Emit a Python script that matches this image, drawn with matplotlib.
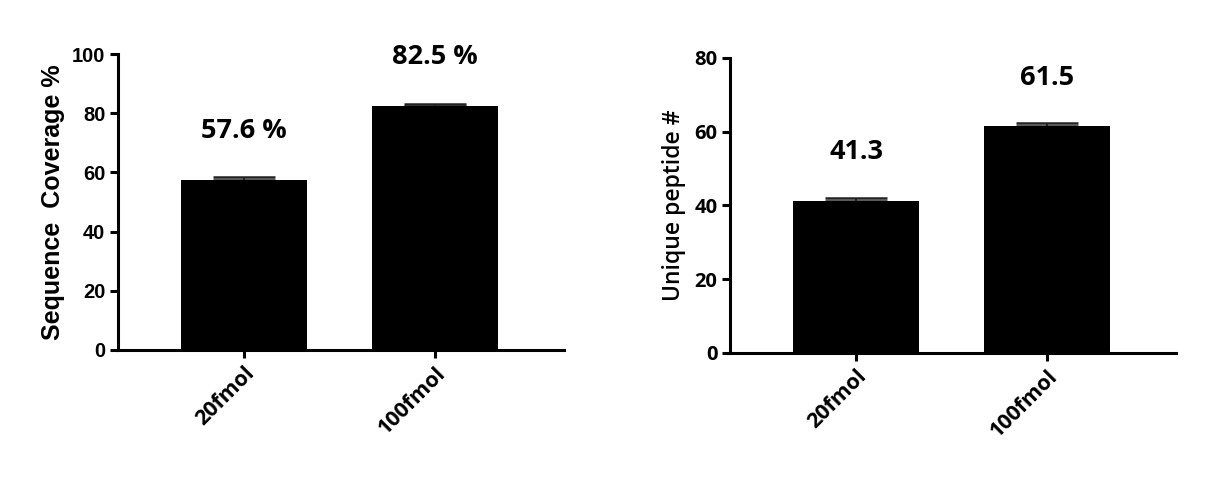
import numpy as np
import matplotlib
matplotlib.use("Agg")
import matplotlib.pyplot as plt

# data
groups = ["20fmol", "100fmol"]
coverage = [57.6, 82.5]
coverage_err = [0.7, 0.6]
coverage_labels = ["57.6 %", "82.5 %"]
peptides = [41.3, 61.5]
peptides_err = [0.8, 0.8]
peptide_labels = ["41.3", "61.5"]

fig = plt.figure(figsize=(12.05, 4.83), dpi=100)
ax1 = fig.add_axes([0.0979, 0.2754, 0.370, 0.6126])
ax2 = fig.add_axes([0.6058, 0.2692, 0.370, 0.6108])


def draw_panel(ax, values, errs, labels, ymax, yticks, ylabel,
               tick_font, tick_size, label_font, label_size, label_weight, labelpad):
    x = np.arange(len(values))
    ax.bar(x, values, width=0.66, color="black", zorder=2)
    ax.errorbar(x, values, yerr=[np.zeros(len(errs)), errs], fmt="none",
                ecolor="#222222", elinewidth=1.5, capsize=22.5, capthick=1.8, zorder=1)
    for xi, v, lab in zip(x, values, labels):
        ax.annotate(lab, (xi, v), xytext=(0, 35), textcoords="offset points",
                    ha="center", va="center", fontsize=19.5, fontweight="bold",
                    family="Open Sans")
    ax.set_xlim(-0.66, 1.675)
    ax.set_ylim(0, ymax)
    ax.set_yticks(yticks)
    ax.set_xticks(x)
    ax.set_xticklabels(groups, rotation=45, ha="right", va="top",
                       rotation_mode="anchor", fontsize=15.5, fontweight="bold",
                       family="Open Sans")
    for t in ax.get_yticklabels():
        t.set_family(tick_font)
        t.set_fontweight("bold")
        t.set_fontsize(tick_size)
    ax.set_ylabel(ylabel, family=label_font, fontsize=label_size,
                  fontweight=label_weight, labelpad=labelpad)
    for side in ["top", "right"]:
        ax.spines[side].set_visible(False)
    for side in ["left", "bottom"]:
        ax.spines[side].set_linewidth(2.2)
    ax.tick_params(axis="both", direction="out", length=6, width=2.2, pad=3)


draw_panel(ax1, coverage, coverage_err, coverage_labels, 100, [0, 20, 40, 60, 80, 100],
           "Sequence  Coverage %", "Liberation Sans", 14.5,
           "Liberation Sans", 18, "bold", 5)
draw_panel(ax2, peptides, peptides_err, peptide_labels, 80, [0, 20, 40, 60, 80],
           "Unique peptide #", "Open Sans", 14.5,
           "Open Sans", 16.5, "semibold", 6)

fig.savefig("out.png", dpi=100)
